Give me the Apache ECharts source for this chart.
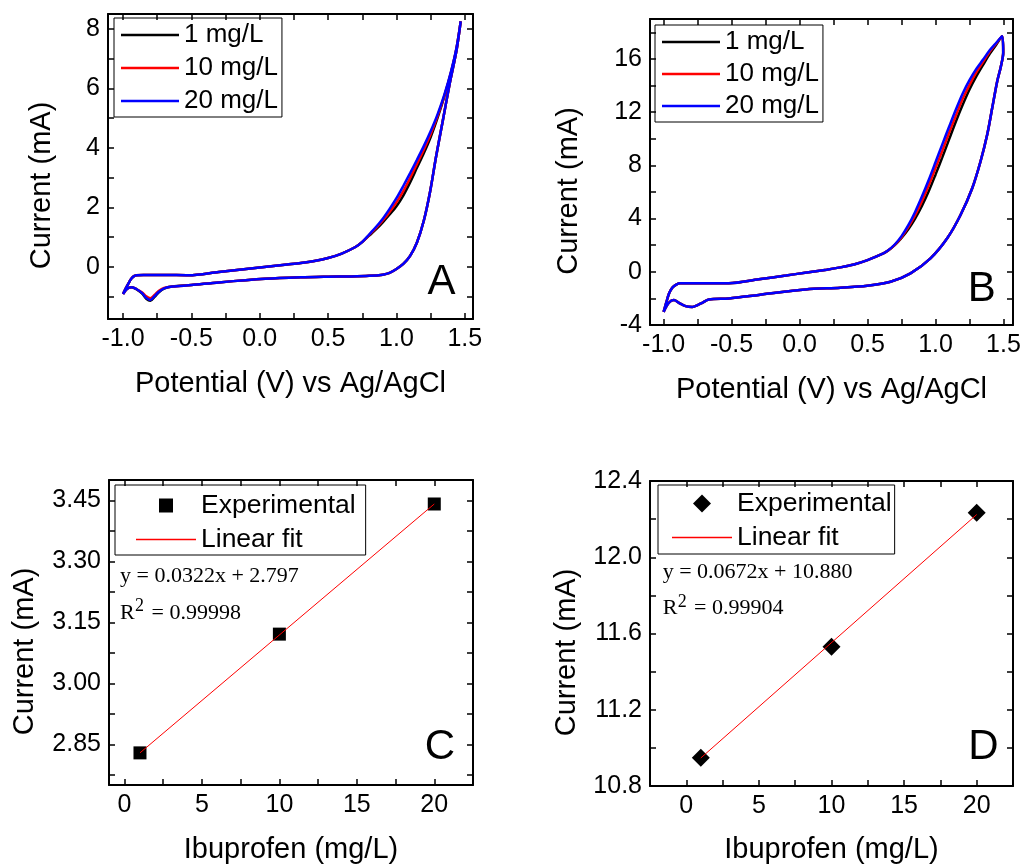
<!DOCTYPE html>
<html>
<head>
<meta charset="utf-8">
<script src="https://cdn.jsdelivr.net/npm/echarts@6/dist/echarts.min.js"></script>
<style>
html,body{margin:0;padding:0;background:#fff;}
#chart{width:1026px;height:865px;}
</style>
</head>
<body>
<div id="chart"></div>
<script>
// ---------------- Panel A data (CV, smaller window) ----------------
const A_fwdLowPot = [-1.00,-0.98,-0.96,-0.94,-0.92,-0.90,-0.85,-0.70,-0.52,-0.30,-0.10,0.00,0.10,0.20,0.30,0.40,0.50,0.60,0.70,0.75];
const A_fwdLowCur = [-0.91,-0.72,-0.55,-0.40,-0.31,-0.28,-0.27,-0.27,-0.28,-0.17,-0.07,-0.02,0.03,0.08,0.13,0.20,0.30,0.45,0.67,0.84];
const A_fwdHighPot = [0.80,0.85,0.90,0.95,1.00,1.05,1.10,1.15,1.20,1.25,1.30,1.35,1.40,1.44,1.47];
const A_fwdHighCur1  = [1.05,1.26,1.50,1.76,2.04,2.40,2.84,3.33,3.82,4.36,5.00,5.72,6.55,7.36,8.25];
const A_fwdHighCur10 = [1.07,1.30,1.56,1.85,2.17,2.55,2.99,3.46,3.94,4.46,5.06,5.75,6.56,7.37,8.25];
const A_fwdHighCur20 = [1.09,1.34,1.62,1.95,2.31,2.72,3.15,3.60,4.06,4.56,5.12,5.78,6.58,7.38,8.25];
const A_revPot = [1.47,1.44,1.39,1.34,1.29,1.245,1.20,1.15,1.10,1.05,1.00,0.95,0.90,0.80,0.65,0.50,0.30,0.04,-0.30,-0.50,-0.64,-0.70,-0.74,-0.77,-0.80,-0.83,-0.86,-0.90,-0.935,-0.97,-1.00];
const A_revCur1  = [8.25,7.29,6.17,4.94,3.71,2.50,1.55,0.82,0.37,0.10,-0.07,-0.20,-0.26,-0.30,-0.32,-0.33,-0.35,-0.40,-0.52,-0.61,-0.66,-0.73,-0.86,-1.01,-1.14,-1.07,-0.90,-0.76,-0.68,-0.73,-0.91];
const A_revCur10 = [8.25,7.29,6.17,4.94,3.71,2.50,1.55,0.82,0.37,0.10,-0.07,-0.20,-0.26,-0.30,-0.32,-0.33,-0.35,-0.40,-0.52,-0.61,-0.66,-0.71,-0.81,-0.94,-1.05,-0.99,-0.86,-0.75,-0.68,-0.73,-0.91];
const A_revCur20 = [8.25,7.29,6.17,4.94,3.71,2.50,1.55,0.82,0.37,0.10,-0.07,-0.20,-0.26,-0.30,-0.32,-0.33,-0.35,-0.40,-0.52,-0.61,-0.66,-0.72,-0.84,-0.98,-1.11,-1.04,-0.88,-0.75,-0.68,-0.73,-0.91];

// ---------------- Panel B data (CV, larger window) ----------------
const B_fwdLowPot = [-1.00,-0.98,-0.96,-0.94,-0.92,-0.90,-0.88,-0.80,-0.65,-0.52,-0.30,-0.10,0.04,0.20,0.30,0.40,0.50,0.60];
const B_fwdLowCur = [-3.01,-2.30,-1.63,-1.25,-1.05,-0.92,-0.87,-0.86,-0.86,-0.86,-0.56,-0.28,-0.07,0.16,0.33,0.55,0.88,1.30];
const B_fwdHighPot = [0.65,0.70,0.75,0.80,0.85,0.90,0.95,1.00,1.05,1.10,1.15,1.20,1.25,1.30,1.35,1.40,1.45,1.49];
const B_fwdHighCur1  = [1.58,2.00,2.55,3.20,4.00,4.95,6.05,7.30,8.60,9.95,11.30,12.55,13.70,14.68,15.55,16.40,17.12,17.71];
const B_fwdHighCur10 = [1.59,2.02,2.60,3.35,4.25,5.30,6.50,7.80,9.10,10.45,11.75,13.00,14.05,14.98,15.78,16.55,17.20,17.71];
const B_fwdHighCur20 = [1.60,2.05,2.68,3.50,4.50,5.65,6.90,8.23,9.58,10.90,12.20,13.40,14.40,15.25,15.95,16.67,17.25,17.71];
const B_revPot = [1.49,1.498,1.48,1.454,1.417,1.38,1.331,1.27,1.184,1.086,0.963,0.816,0.669,0.498,0.301,0.044,-0.30,-0.52,-0.667,-0.716,-0.75,-0.789,-0.838,-0.887,-0.924,-0.961,-1.00];
const B_revCur = [17.71,16.46,15.40,14.32,12.31,10.30,8.29,6.28,4.27,2.52,1.01,-0.12,-0.75,-1.05,-1.20,-1.33,-1.74,-2.00,-2.08,-2.33,-2.50,-2.64,-2.58,-2.33,-2.13,-2.33,-3.01];

// ---------------- Panels C and D data (calibration) ----------------
const conc = [1, 10, 20];
const C_current = [2.829, 3.121, 3.441];
const C_fitX = [1, 20];
const C_fitY = [2.829, 3.441];
const D_current = [10.948, 11.530, 12.234];
const D_fitX = [1, 20];
const D_fitY = [10.947, 12.224];

// ---------------- Tick values ----------------
const cvXTicks = [-1.0,-0.75,-0.5,-0.25,0,0.25,0.5,0.75,1.0,1.25,1.5];
const cvXLabels = [-1.0,-0.5,0,0.5,1.0,1.5];
const A_yTicks = [-1,0,1,2,3,4,5,6,7,8];
const A_yLabels = [0,2,4,6,8];
const B_yTicks = [-4,-2,0,2,4,6,8,10,12,14,16,18];
const B_yLabels = [-4,0,4,8,12,16];
const calXTicks = [0,2.5,5,7.5,10,12.5,15,17.5,20];
const calXLabels = [0,5,10,15,20];
const C_yTicks = [2.775,2.85,2.925,3.0,3.075,3.15,3.225,3.3,3.375,3.45];
const C_yLabels = [2.85,3.0,3.15,3.3,3.45];
const D_yTicks = [11.0,11.2,11.4,11.6,11.8,12.0,12.2];
const D_yLabels = [10.8,11.2,11.6,12.0,12.4];

const FONT = 'Liberation Sans';
const SERIF = 'Liberation Serif';

function pairs(xs, ys) { return xs.map((v, i) => [v, ys[i]]); }

function axisPair(kind, gridIndex, min, max, ticks, labels, fmt, name, nameGap, namePad) {
  const common = {
    type: 'value', gridIndex: gridIndex, min: min, max: max,
    axisLine: { show: true, onZero: false, lineStyle: { color: '#000', width: 2 } },
    axisTick: { show: true, inside: true, length: 6, customValues: ticks, lineStyle: { color: '#000', width: 1.5 } },
    splitLine: { show: false },
    minorTick: { show: false }
  };
  const main = Object.assign({}, common, {
    position: kind === 'x' ? 'bottom' : 'left',
    axisLabel: { show: true, customValues: labels, formatter: fmt, color: '#000', fontSize: 25, fontFamily: FONT, margin: 8 },
    name: name, nameLocation: 'middle', nameGap: nameGap, nameMoveOverlap: false,
    nameTextStyle: { color: '#000', fontSize: 29, fontFamily: FONT, padding: namePad }
  });
  const mirror = Object.assign({}, common, {
    position: kind === 'x' ? 'top' : 'right',
    axisLabel: { show: false }
  });
  return [main, mirror];
}

const f1 = v => Number(v).toFixed(1);
const f2 = v => Number(v).toFixed(2);
const f0 = v => String(Math.round(v));

const xAxes = [].concat(
  axisPair('x', 0, -1.11, 1.56, cvXTicks, cvXLabels, f1, 'Potential (V) vs Ag/AgCl', 50, 0),
  axisPair('x', 1, -1.10, 1.57, cvXTicks, cvXLabels, f1, 'Potential (V) vs Ag/AgCl', 50, 0),
  axisPair('x', 2, -1, 22.5, calXTicks, calXLabels, f0, 'Ibuprofen (mg/L)', 50, 0),
  axisPair('x', 3, -2.5, 22.5, calXTicks, calXLabels, f0, 'Ibuprofen (mg/L)', 49, 0)
);
const yAxes = [].concat(
  axisPair('y', 0, -1.75, 8.5, A_yTicks, A_yLabels, f0, 'Current (mA)', 52, [0, 38, 0, 0]),
  axisPair('y', 1, -4, 19, B_yTicks, B_yLabels, f0, 'Current (mA)', 67, [0, 38, 0, 0]),
  axisPair('y', 2, 2.75, 3.5, C_yTicks, C_yLabels, f2, 'Current (mA)', 70, [0, 38, 0, 0]),
  axisPair('y', 3, 10.8, 12.4, D_yTicks, D_yLabels, f1, 'Current (mA)', 69, [0, 38, 0, 0])
);

function cvSeries(name, color, xi, data) {
  return {
    name: name, type: 'line', xAxisIndex: xi, yAxisIndex: xi,
    data: data, symbol: 'none', showSymbol: false, smooth: 0.3,
    lineStyle: { color: color, width: 2.5 }, itemStyle: { color: color },
    animation: false
  };
}

const series = [
  cvSeries('1 mg/L', '#000000', 0, pairs(A_fwdLowPot.concat(A_fwdHighPot, A_revPot), A_fwdLowCur.concat(A_fwdHighCur1, A_revCur1))),
  cvSeries('10 mg/L', '#ff0000', 0, pairs(A_fwdLowPot.concat(A_fwdHighPot, A_revPot), A_fwdLowCur.concat(A_fwdHighCur10, A_revCur10))),
  cvSeries('20 mg/L', '#0000ff', 0, pairs(A_fwdLowPot.concat(A_fwdHighPot, A_revPot), A_fwdLowCur.concat(A_fwdHighCur20, A_revCur20))),
  cvSeries('1 mg/L', '#000000', 2, pairs(B_fwdLowPot.concat(B_fwdHighPot, B_revPot), B_fwdLowCur.concat(B_fwdHighCur1, B_revCur))),
  cvSeries('10 mg/L', '#ff0000', 2, pairs(B_fwdLowPot.concat(B_fwdHighPot, B_revPot), B_fwdLowCur.concat(B_fwdHighCur10, B_revCur))),
  cvSeries('20 mg/L', '#0000ff', 2, pairs(B_fwdLowPot.concat(B_fwdHighPot, B_revPot), B_fwdLowCur.concat(B_fwdHighCur20, B_revCur))),
  { name: 'Experimental', type: 'scatter', xAxisIndex: 4, yAxisIndex: 4, data: pairs(conc, C_current),
    symbol: 'rect', symbolSize: 13, itemStyle: { color: '#000', opacity: 1 }, animation: false },
  { name: 'Linear fit', type: 'line', xAxisIndex: 4, yAxisIndex: 4, data: pairs(C_fitX, C_fitY),
    symbol: 'none', showSymbol: false, lineStyle: { color: '#ff0000', width: 1 }, itemStyle: { color: '#ff0000' }, animation: false },
  { name: 'Experimental', type: 'scatter', xAxisIndex: 6, yAxisIndex: 6, data: pairs(conc, D_current),
    symbol: 'diamond', symbolSize: 18, itemStyle: { color: '#000', opacity: 1 }, animation: false },
  { name: 'Linear fit', type: 'line', xAxisIndex: 6, yAxisIndex: 6, data: pairs(D_fitX, D_fitY),
    symbol: 'none', showSymbol: false, lineStyle: { color: '#ff0000', width: 1 }, itemStyle: { color: '#ff0000' }, animation: false }
];

const CV_LINE_ICON = 'path://M0,0H58V2.4H0Z';
const FIT_LINE_ICON = 'path://M0,0H60V1.6H0Z';
const SQUARE_ICON = 'path://M0,0H10V10H0Z';
const DIAMOND_ICON = 'path://M5,0L10,5L5,10L0,5Z';

const cvLegendText = { fontSize: 26, color: '#000', fontFamily: FONT, lineHeight: 26 };
const calLegendText = { fontSize: 26.5, color: '#000', fontFamily: FONT, lineHeight: 26 };
const cvLegendData = [
  { name: '1 mg/L', icon: CV_LINE_ICON, itemStyle: { color: '#000000' } },
  { name: '10 mg/L', icon: CV_LINE_ICON, itemStyle: { color: '#ff0000' } },
  { name: '20 mg/L', icon: CV_LINE_ICON, itemStyle: { color: '#0000ff' } }
];
const fitLegendItem = { name: 'Linear fit', icon: FIT_LINE_ICON, itemStyle: { color: '#ff0000', borderColor: '#ff0000', borderWidth: 0 } };
const legends = [
  { left: 114, top: 18, orient: 'vertical', data: cvLegendData, itemWidth: 58, itemHeight: 14, itemGap: 7, symbolKeepAspect: true,
    padding: [4, 4, 3, 7], borderColor: '#000', borderWidth: 1, textStyle: cvLegendText, selectedMode: false },
  { left: 655, top: 25, orient: 'vertical', data: cvLegendData, itemWidth: 58, itemHeight: 14, itemGap: 6, symbolKeepAspect: true,
    padding: [4, 4, 3, 7], borderColor: '#000', borderWidth: 1, textStyle: cvLegendText, selectedMode: false },
  { left: 115, top: 485, orient: 'vertical', data: [{ name: 'Experimental', icon: SQUARE_ICON, itemStyle: { color: '#000' } }, fitLegendItem],
    itemWidth: 60, itemHeight: 14, itemGap: 7, symbolKeepAspect: true,
    padding: [7, 10, 2, 21], borderColor: '#000', borderWidth: 1, textStyle: calLegendText, selectedMode: false },
  { left: 658, top: 485, orient: 'vertical', data: [{ name: 'Experimental', icon: DIAMOND_ICON, itemStyle: { color: '#000' } }, fitLegendItem],
    itemWidth: 60, itemHeight: 18, itemGap: 7, symbolKeepAspect: true,
    padding: [5, 3, 3, 14], borderColor: '#000', borderWidth: 1, textStyle: calLegendText, selectedMode: false }
];

function txt(text, x, y, size, family, align) {
  return { type: 'text', silent: true, style: {
    text: text, x: x, y: y, font: size + 'px "' + family + '"', fill: '#000',
    textAlign: align || 'left', align: align || 'left', textVerticalAlign: 'middle', verticalAlign: 'middle' } };
}

const graphics = [
  txt('A', 441.5, 282, 42, FONT, 'center'),
  txt('B', 981.7, 289, 42, FONT, 'center'),
  txt('C', 440, 747.5, 42, FONT, 'center'),
  txt('D', 983.3, 747.3, 42, FONT, 'center'),
  txt('y = 0.0322x + 2.797', 120, 576.5, 22, SERIF),
  txt('R', 120, 613, 22, SERIF),
  txt('2', 135, 606.5, 18, SERIF),
  txt(' = 0.99998', 146, 613, 22, SERIF),
  txt('y = 0.0672x + 10.880', 662.7, 571.8, 22, SERIF),
  txt('R', 662.7, 608.5, 22, SERIF),
  txt('2', 677.7, 602, 18, SERIF),
  txt(' = 0.99904', 688.5, 608.5, 22, SERIF)
];

const chart = echarts.init(document.getElementById('chart'), null, { renderer: 'canvas', width: 1026, height: 865 });
chart.setOption({
  backgroundColor: '#ffffff',
  animation: false,
  textStyle: { fontFamily: FONT },
  grid: [
    { left: 108, top: 14, width: 365, height: 305, outerBoundsMode: 'none', containLabel: false },
    { left: 650, top: 19, width: 363, height: 306, outerBoundsMode: 'none', containLabel: false },
    { left: 109, top: 480, width: 364, height: 305, outerBoundsMode: 'none', containLabel: false },
    { left: 650, top: 481, width: 363, height: 305, outerBoundsMode: 'none', containLabel: false }
  ],
  xAxis: xAxes,
  yAxis: yAxes,
  legend: legends,
  series: series,
  graphic: graphics
});
</script>
</body>
</html>
